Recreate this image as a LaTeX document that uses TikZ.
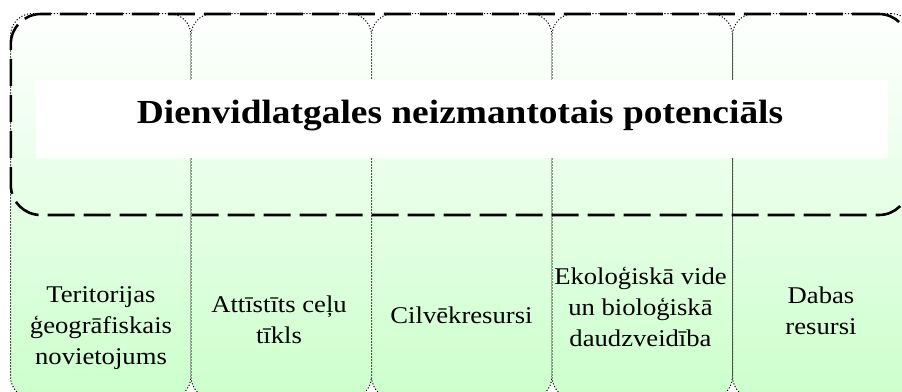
\documentclass[tikz,border=0pt]{standalone}
\usepackage{fontspec}
\setmainfont{Liberation Serif}[FakeStretch=1.11]
\definecolor{colgreen}{RGB}{204,255,204}
\begin{document}
\begin{tikzpicture}[x=1pt,y=-1pt,
  colbox/.style={rectangle, rounded corners=22pt, minimum width=180.5pt,
    minimum height=385pt, inner sep=0pt, top color=white, bottom color=colgreen,
    draw=black, line width=1pt, dash pattern=on 1.1pt off 1.9pt},
  frame/.style={rectangle, rounded corners=30pt, minimum width=898pt,
    minimum height=201pt, inner sep=0pt, draw=black, line width=2.6pt,
    dash pattern=on 27pt off 9pt},
  band/.style={rectangle, fill=white, minimum width=852pt, minimum height=78pt, inner sep=0pt},
  titletext/.style={font=\bfseries\fontsize{33.7}{40}\selectfont, inner sep=0pt, anchor=base},
  label/.style={font=\fontsize{24}{31}\selectfont, align=center, inner sep=0pt, anchor=base}
]
\useasboundingbox (0,0) rectangle (902,391);
\clip (0,0) rectangle (902,391);
\node[colbox] (c1) at (100.75,206) {};
\node[colbox] (c2) at (281.25,206) {};
\node[colbox] (c3) at (461.75,206) {};
\node[colbox] (c4) at (642.25,206) {};
\node[colbox] (c5) at (822.75,206) {};
\node[band] (b) at (462,119) {};
\node[titletext] (t) at (460,123.3) {Dienvidlatgales neizmantotais potenciāls};
\node[frame] (f) at (459.8,114.5) {};
\node[label] (l1) at (101,364) {Teritorijas\\ģeogrāfiskais\\novietojums};
\node[label] (l2) at (279,343) {Attīstīts ceļu\\tīkls};
\node[label] (l3) at (461.5,323) {Cilvēkresursi};
\node[label] (l4) at (640.5,346) {Ekoloģiskā vide\\un bioloģiskā\\daudzveidība};
\node[label] (l5) at (821,334) {Dabas\\resursi};
\end{tikzpicture}
\end{document}
